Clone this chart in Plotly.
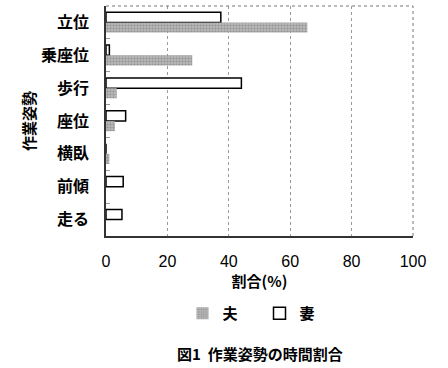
import plotly.graph_objects as go

categories = ["立位", "乗座位", "歩行", "座位", "横臥", "前傾", "走る"]
husband = [65.6, 28.1, 3.5, 2.9, 1.1, 0, 0]
wife = [37.4, 1.1, 44.1, 6.4, 0, 5.6, 5.2]
x_ticks = [0, 20, 40, 60, 80, 100]

FONT = "Noto Sans CJK JP"

fig = go.Figure()
fig.add_trace(go.Bar(
    y=categories, x=wife, orientation="h", name="妻",
    marker=dict(color="white", line=dict(color="black", width=1.5)),
    legendrank=2,
))
fig.add_trace(go.Bar(
    y=categories, x=husband, orientation="h", name="夫",
    marker=dict(color="#a8a8a8", line=dict(color="#a8a8a8", width=0),
                pattern=dict(shape=".", fgcolor="#6e6e6e", bgcolor="#b8b8b8", size=3, solidity=0.4)),
    legendrank=1,
))

fig.update_layout(
    width=448, height=368,
    margin=dict(l=106, r=35, t=6, b=132, autoexpand=False),
    paper_bgcolor="white", plot_bgcolor="white",
    barmode="group", bargap=0.38, bargroupgap=0,
    font=dict(family=FONT, color="black", size=15),
    legend=dict(orientation="h", x=0.5, xanchor="center", y=-0.265, yanchor="top",
                font=dict(size=15, family=FONT, weight="bold"),
                itemwidth=30, entrywidth=32, entrywidthmode="pixels",
                tracegroupgap=0, traceorder="normal"),
    annotations=[dict(text="<b>図1  作業姿勢の時間割合</b>", x=0.5, xref="paper",
                      y=-0.51, yref="paper", yanchor="middle", showarrow=False,
                      xanchor="center", font=dict(size=15, family=FONT))],
)
fig.update_xaxes(
    range=[0, 100], tickvals=x_ticks, ticks="", showgrid=True,
    gridcolor="#9a9a9a", griddash="dot", gridwidth=1,
    showline=True, linecolor="#333", linewidth=1.5, mirror=False,
    tickfont=dict(size=16, family="Liberation Sans"),
    ticklabelstandoff=10, automargin=False,
    title=dict(text="<b>割合(%)</b>", font=dict(size=15, family=FONT), standoff=8),
    zeroline=False,
)
fig.update_yaxes(
    autorange="reversed", categoryorder="array", categoryarray=categories,
    showline=True, linecolor="#333", linewidth=1.5,
    tickfont=dict(size=16, family=FONT, weight="bold"),
    ticks="inside", tickson="boundaries", ticklen=4, tickcolor="#999", tickwidth=1,
    ticklabelstandoff=12, automargin=False,
    title=dict(text="<b>作業姿勢</b>", font=dict(size=15, family=FONT), standoff=2),
)
# dotted top/right border
fig.add_shape(type="line", xref="paper", yref="paper", x0=0, x1=1, y0=1, y1=1,
              line=dict(color="#777", width=1, dash="dot"))
fig.add_shape(type="line", xref="paper", yref="paper", x0=1, x1=1, y0=0, y1=1,
              line=dict(color="#777", width=1, dash="dot"))

fig.write_html("out.html", config={"displayModeBar": False},
               post_script="document.body.style.margin='0';document.body.style.overflow='hidden';")
